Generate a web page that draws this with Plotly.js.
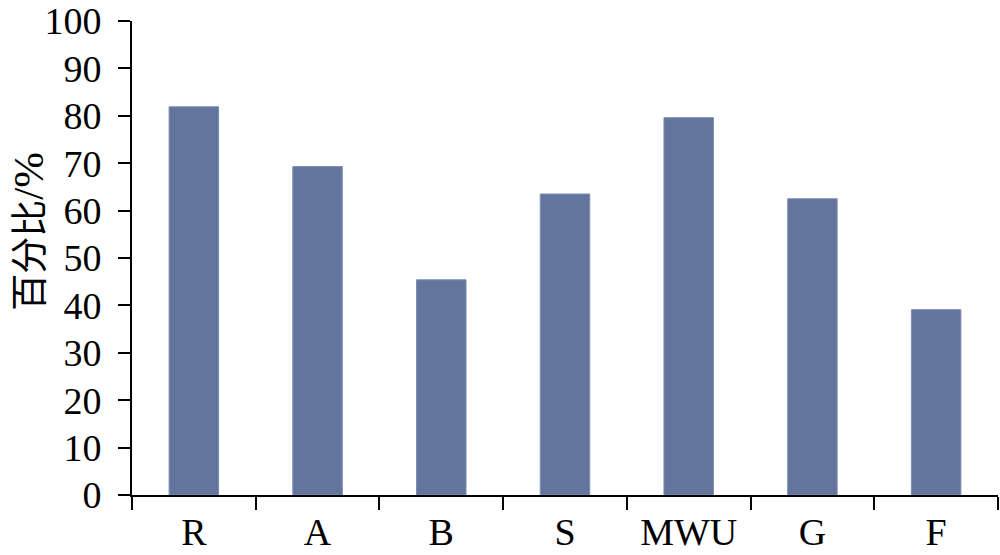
<!DOCTYPE html>
<html>
<head>
<meta charset="utf-8">
<script src="https://cdn.plot.ly/plotly-3.0.1.min.js"></script>
<style>html,body{margin:0;padding:0;background:#fff;}#chart{width:1000px;height:555px;}</style>
</head>
<body>
<div id="chart"></div>
<script>
var categories = ["R", "A", "B", "S", "MWU", "G", "F"];
var percentValues = [81.9, 69.3, 45.4, 63.5, 79.6, 62.5, 39.1];
var yTickValues = [0, 10, 20, 30, 40, 50, 60, 70, 80, 90, 100];
var yAxisLabelCJK = "百分比";
var yAxisLabelUnit = "/%";

var serif = "Liberation Serif, Times New Roman, Noto Sans CJK SC, serif";

var trace = {
  type: "bar",
  x: categories,
  y: percentValues,
  marker: { color: "#63759c", line: { color: "#7d8db0", width: 1 } },
  hoverinfo: "x+y"
};

var layout = {
  width: 1000,
  height: 555,
  margin: { l: 132, r: 2, t: 21, b: 60 },
  paper_bgcolor: "#ffffff",
  plot_bgcolor: "#ffffff",
  bargap: 0.6,
  showlegend: false,
  font: { family: serif, color: "#000000", size: 38 },
  xaxis: {
    type: "category",
    showline: true,
    linecolor: "#000000",
    linewidth: 2,
    ticks: "outside",
    tickson: "boundaries",
    ticklen: 13,
    tickwidth: 2,
    tickcolor: "#000000",
    showgrid: false,
    zeroline: false,
    tickfont: { family: serif, size: 38, color: "#000000" },
    ticklabelstandoff: 2
  },
  yaxis: {
    range: [0, 100],
    tickmode: "array",
    tickvals: yTickValues,
    ticktext: yTickValues.map(String),
    showline: true,
    linecolor: "#000000",
    linewidth: 2,
    ticks: "outside",
    ticklen: 12,
    tickwidth: 2,
    tickcolor: "#000000",
    showgrid: false,
    zeroline: false,
    ticklabeloverflow: "allow",
    tickfont: { family: serif, size: 38, color: "#000000" },
    ticklabelstandoff: 9
  },
  annotations: [{
    text: yAxisLabelCJK + "<span style='font-family:\"Liberation Serif\";font-size:43px'>" + yAxisLabelUnit + "</span>",
    xref: "paper",
    yref: "paper",
    x: -0.1215,
    y: 0.557,
    xanchor: "center",
    yanchor: "middle",
    textangle: -90,
    showarrow: false,
    font: { family: "Noto Sans CJK SC, Liberation Serif, serif", size: 37, color: "#000000" }
  }]
};

Plotly.newPlot("chart", [trace], layout, { staticPlot: true, displayModeBar: false });
</script>
</body>
</html>
